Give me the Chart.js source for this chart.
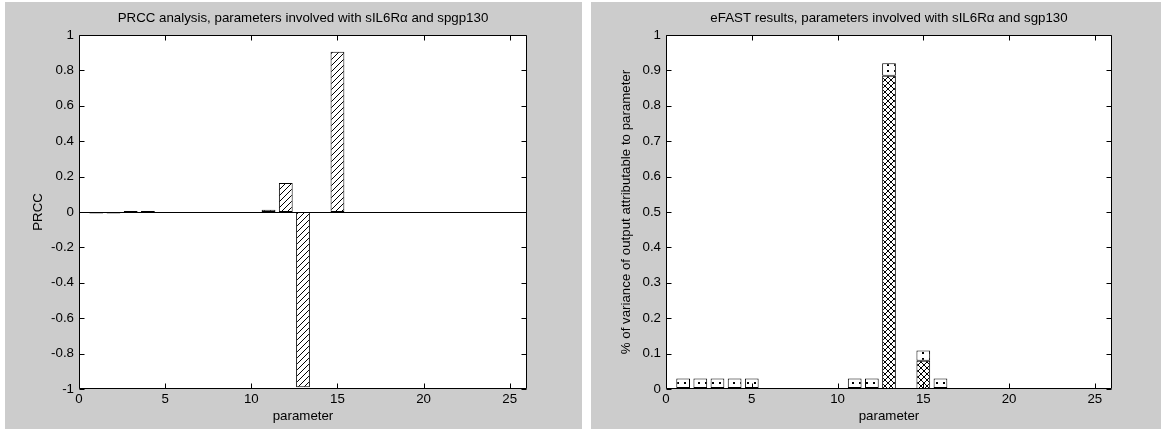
<!DOCTYPE html>
<html>
<head>
<meta charset="utf-8">
<script src="https://cdn.jsdelivr.net/npm/chart.js"></script>
<style>
  body { margin: 0; background: #fff; }
  canvas { position: absolute; background: #cccccc; }
</style>
</head>
<body>
<canvas id="prcc" width="577" height="427" style="left:5px; top:2px;"></canvas>
<canvas id="efast" width="570" height="427" style="left:591px; top:2px;"></canvas>
<script>
// parameter index 1..26
const params = [1,2,3,4,5,6,7,8,9,10,11,12,13,14,15,16,17,18,19,20,21,22,23,24,25,26];
// PRCC values
const prcc = [-0.009,-0.009,0.006,0.006,0,0,0,0,0,0,0.013,0.164,-0.99,0,0.905,0,0,0,0,0,0,0,0,0,0,0];
// eFAST: first-order part (crosshatch) and remaining total-order part (dots)
const efastFirst = [0.003,0.003,0.003,0.003,0.003,0,0,0,0,0,0.003,0.003,0.885,0,0.08,0.003,0,0,0,0,0,0,0,0,0,0];
const efastRest  = [0.027,0.027,0.027,0.027,0.027,0,0,0,0,0,0.027,0.027,0.035,0,0.029,0.027,0,0,0,0,0,0,0,0,0,0];
const xTicks = [0,5,10,15,20,25];
const yTicksPrcc = [-1,-0.8,-0.6,-0.4,-0.2,0,0.2,0.4,0.6,0.8,1];
const yTicksEfast = [0,0.1,0.2,0.3,0.4,0.5,0.6,0.7,0.8,0.9,1];
const titlePrcc = 'PRCC analysis, parameters involved with sIL6Rα and spgp130';
const titleEfast = 'eFAST results, parameters involved with sIL6Rα and sgp130';

const FONT = 'Liberation Sans, Arial, Helvetica, sans-serif';
const FS = 13.3;

function makePattern(w, h, draw) {
  const c = document.createElement('canvas');
  c.width = w; c.height = h;
  const g = c.getContext('2d');
  g.fillStyle = '#fff'; g.fillRect(0, 0, w, h);
  g.fillStyle = '#000';
  draw(g);
  return c;
}
const hatchTile = makePattern(6, 6, g => { for (let i = 0; i < 6; i++) g.fillRect(i, 5 - i, 1, 1); });
const crossTile = makePattern(6, 6, g => { for (let i = 0; i < 6; i++) { g.fillRect(i, i, 1, 1); g.fillRect(i, 5 - i, 1, 1); } });
const dotTile = makePattern(7, 6, g => { g.fillRect(2, 2, 2, 2); });

const tmp = document.createElement('canvas').getContext('2d');
const hatch = tmp.createPattern(hatchTile, 'repeat');
const cross = tmp.createPattern(crossTile, 'repeat');
const dots = tmp.createPattern(dotTile, 'repeat');

// white plot area, title, box, inward ticks on all sides, optional zero line
const matlabAxes = {
  id: 'matlabAxes',
  beforeDatasetsDraw(chart, args, opts) {
    const {ctx, chartArea: a} = chart;
    ctx.save();
    ctx.fillStyle = '#fff';
    ctx.fillRect(a.left, a.top, a.right - a.left, a.bottom - a.top);
    ctx.fillStyle = '#000';
    ctx.font = FS + 'px ' + FONT;
    ctx.textAlign = 'center';
    ctx.textBaseline = 'middle';
    ctx.fillText(opts.title, (a.left + a.right) / 2, 16.5);
    ctx.restore();
  },
  afterDatasetsDraw(chart, args, opts) {
    const {ctx, chartArea: a, scales: {x, y}} = chart;
    ctx.save();
    ctx.strokeStyle = '#000';
    ctx.lineWidth = 1;
    ctx.beginPath();
    if (opts.zeroLine) {
      const zy = Math.round(y.getPixelForValue(0)) + 0.5;
      ctx.moveTo(a.left, zy); ctx.lineTo(a.right, zy);
    }
    const L = Math.round(a.left) + 0.5, R = Math.round(a.right) - 0.5;
    const T = Math.round(a.top) + 0.5, B = Math.round(a.bottom) - 0.5;
    ctx.rect(L, T, R - L, B - T);
    x.ticks.forEach(t => {
      const px = Math.round(x.getPixelForValue(t.value)) + 0.5;
      ctx.moveTo(px, B); ctx.lineTo(px, B - 5);
      ctx.moveTo(px, T); ctx.lineTo(px, T + 5);
    });
    y.ticks.forEach(t => {
      const py = Math.round(y.getPixelForValue(t.value)) + 0.5;
      ctx.moveTo(L, py); ctx.lineTo(L + 5, py);
      ctx.moveTo(R, py); ctx.lineTo(R - 5, py);
    });
    ctx.stroke();
    ctx.restore();
  }
};

function fmt(v) { return String(Number(v.toFixed(2))); }

function xScale() {
  return {
    type: 'linear', min: 0, max: 26, offset: false,
    grid: { display: false, drawTicks: false }, border: { display: false },
    afterBuildTicks: s => { s.ticks = xTicks.map(v => ({ value: v })); },
    afterFit: s => { s.height = 40; },
    ticks: { padding: 2, color: '#000', font: { family: FONT, size: FS }, callback: fmt, maxRotation: 0 },
    title: { display: true, text: 'parameter', color: '#000', font: { family: FONT, size: FS }, padding: { top: 0, bottom: 5 } }
  };
}
function yScale(min, max, ticks, label, width, pad) {
  return {
    min: min, max: max,
    grid: { display: false, drawTicks: false }, border: { display: false },
    afterBuildTicks: s => { s.ticks = ticks.map(v => ({ value: v })); },
    afterFit: s => { s.width = width; },
    ticks: { padding: 5, color: '#000', font: { family: FONT, size: FS }, callback: fmt },
    title: { display: true, text: label, color: '#000', font: { family: FONT, size: FS }, padding: { top: pad, bottom: 0 } }
  };
}
const edge = c => (c.raw && c.raw.y === 0) ? 0 : 1;

new Chart(document.getElementById('prcc'), {
  type: 'bar',
  data: {
    datasets: [{
      data: params.map((p, i) => ({ x: p, y: prcc[i] })),
      backgroundColor: hatch, borderColor: '#000', borderWidth: edge, borderSkipped: false,
      categoryPercentage: 0.8, barPercentage: 1
    }]
  },
  options: {
    responsive: false, animation: false, events: [],
    layout: { padding: { left: 0, right: 55, top: 33, bottom: 0 } },
    plugins: {
      legend: { display: false }, tooltip: { enabled: false },
      matlabAxes: { zeroLine: true, title: titlePrcc }
    },
    scales: { x: xScale(), y: yScale(-1, 1, yTicksPrcc, 'PRCC', 74, 25) }
  },
  plugins: [matlabAxes]
});

new Chart(document.getElementById('efast'), {
  type: 'bar',
  data: {
    datasets: [{
      data: params.map((p, i) => ({ x: p, y: efastFirst[i] })),
      backgroundColor: cross, borderColor: '#000', borderWidth: edge, borderSkipped: false,
      categoryPercentage: 0.8, barPercentage: 1
    }, {
      data: params.map((p, i) => ({ x: p, y: efastRest[i] })),
      backgroundColor: dots, borderColor: '#000', borderWidth: edge, borderSkipped: false,
      categoryPercentage: 0.8, barPercentage: 1
    }]
  },
  options: {
    responsive: false, animation: false, events: [],
    layout: { padding: { left: 0, right: 49, top: 33, bottom: 0 } },
    plugins: {
      legend: { display: false }, tooltip: { enabled: false },
      matlabAxes: { zeroLine: false, title: titleEfast }
    },
    scales: {
      x: Object.assign(xScale(), { stacked: true }),
      y: Object.assign(yScale(0, 1, yTicksEfast, '% of variance of output attributable to parameter', 75, 27), { stacked: true })
    }
  },
  plugins: [matlabAxes]
});
</script>
</body>
</html>
